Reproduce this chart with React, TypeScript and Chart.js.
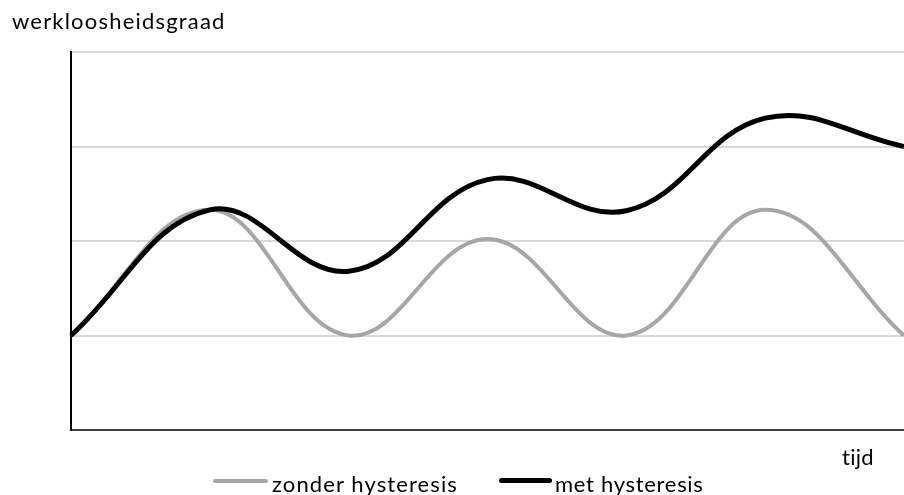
import React, { useEffect, useRef } from "react";
import { Chart, registerables } from "chart.js";

Chart.register(...registerables);

const periods = ["1", "2", "3", "4", "5", "6", "7"];
const zonderHysteresis = [1, 2.33, 1, 2.02, 1, 2.33, 1];
const metHysteresis = [1, 2.33, 1.68, 2.65, 2.32, 3.3, 3.0];
const yTicks = [0, 1, 2, 3, 4];

const FONT = "Lato, 'Open Sans', sans-serif";

export default function App() {
  const ref = useRef<HTMLCanvasElement | null>(null);
  useEffect(() => {
    if (!ref.current) return;
    const chart = new Chart(ref.current, {
      type: "line",
      data: {
        labels: periods,
        datasets: [
          {
            label: "zonder hysteresis",
            data: zonderHysteresis,
            borderColor: "#a6a6a6",
            borderWidth: 4,
            pointRadius: 0,
            tension: 0.4,
            fill: false,
            order: 2,
          },
          {
            label: "met hysteresis",
            data: metHysteresis,
            borderColor: "#000000",
            borderWidth: 5,
            pointRadius: 0,
            tension: 0.4,
            fill: false,
            order: 1,
          },
        ],
      },
      options: {
        responsive: false,
        animation: false,
        layout: { padding: { left: 71, top: 52, right: 0, bottom: 65 } },
        plugins: { legend: { display: false }, tooltip: { enabled: false } },
        scales: {
          x: {
            offset: false,
            ticks: { display: false },
            grid: { display: false, drawTicks: false },
            border: { display: true, color: "#404040", width: 2 },
          },
          y: {
            min: yTicks[0],
            max: yTicks[yTicks.length - 1],
            afterBuildTicks: (axis: any) => {
              axis.ticks = yTicks.map((v) => ({ value: v }));
            },
            ticks: { display: false },
            grid: { color: "#d9d9d9", lineWidth: 2, drawTicks: false },
            border: { display: true, color: "#000000", width: 2 },
          },
        },
      },
    });
    return () => chart.destroy();
  }, []);

  const text: React.CSSProperties = {
    position: "absolute",
    fontFamily: FONT,
    fontSize: 22,
    lineHeight: "26px",
    color: "#000",
    whiteSpace: "nowrap",
  };

  return (
    <div style={{ position: "fixed", left: 0, top: 0, width: 904, height: 495, background: "#fff", overflow: "hidden" }}>
      <canvas ref={ref} width={904} height={495} style={{ position: "absolute", left: 0, top: 0 }} />
      <div style={{ ...text, left: 12, top: 7.5, letterSpacing: 1.2 }}>werkloosheidsgraad</div>
      <div style={{ ...text, left: 842, top: 443.5, letterSpacing: 0.3 }}>tijd</div>
      <div style={{ position: "absolute", left: 213, top: 478.7, width: 55, height: 4, background: "#a6a6a6", borderRadius: 2 }} />
      <div style={{ ...text, left: 272, top: 470.5, letterSpacing: 1.1 }}>zonder hysteresis</div>
      <div style={{ position: "absolute", left: 499, top: 478.2, width: 53, height: 5, background: "#000", borderRadius: 2.5 }} />
      <div style={{ ...text, left: 555, top: 470.5, letterSpacing: 0.7 }}>met hysteresis</div>
    </div>
  );
}
